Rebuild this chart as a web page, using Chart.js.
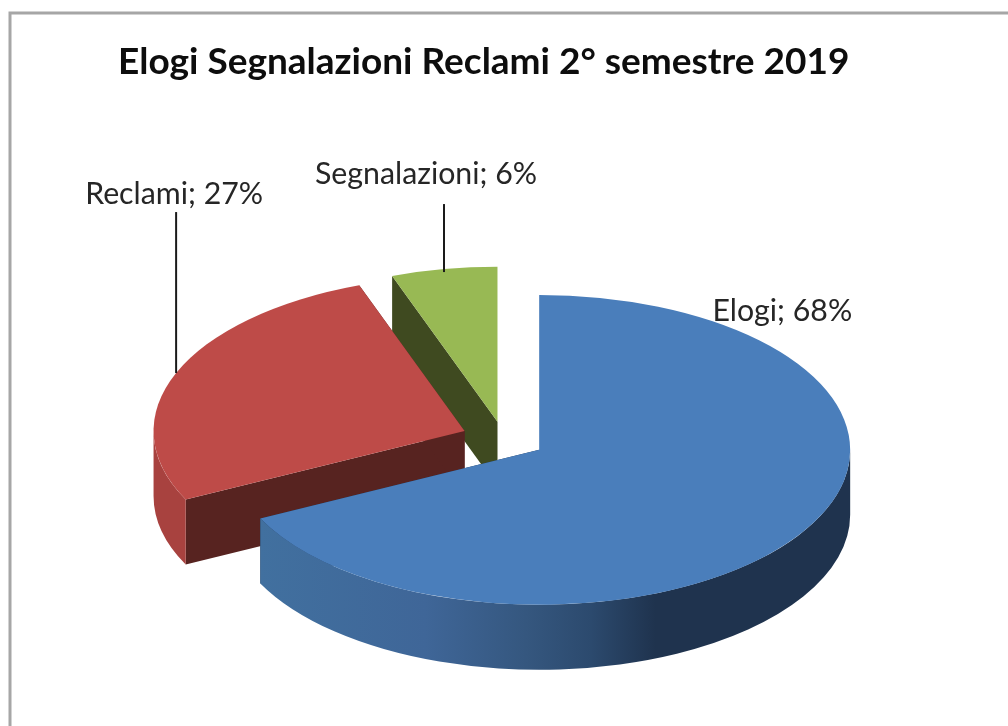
<!DOCTYPE html>
<html lang="it">
<head>
<meta charset="utf-8">
<title>Elogi Segnalazioni Reclami</title>
<script src="https://cdn.jsdelivr.net/npm/chart.js@4"></script>
<style>
html,body{margin:0;padding:0;background:#fff;}
#wrap{position:relative;width:1008px;height:726px;overflow:hidden;}
canvas{display:block;}
</style>
</head>
<body>
<div id="wrap"><canvas id="c" width="1008" height="726"></canvas></div>
<script>
const categories = ["Elogi", "Reclami", "Segnalazioni"];
const percentages = [67.7, 26.8, 5.5];
const chartTitle = "Elogi Segnalazioni Reclami 2° semestre 2019";

const topColors = ["#4a7ebb", "#be4b48", "#98b954"];
const cutColors = ["#1f334e", "#572320", "#3f4a20"];
const rimStops = [
  [[0, "#41709f"], [0.28, "#3f6698"], [0.45, "#35577f"], [0.56, "#2c4a6e"], [0.67, "#1f334e"], [1, "#1f334e"]],
  [[0, "#a8423f"], [1, "#a8423f"]],
  [[0, "#7a9443"], [1, "#7a9443"]]
];

const tilt = 0.498;          // vertical squash of the pie
const depth = 65;            // thickness of the pie, in screen pixels
const explode = [42, 42, 35]; // distance each slice is pulled from the centre
const centerY = 438.8;       // screen position of the pie centre

// Where each label sits relative to the middle of its slice's rim
const labelOffset = [[-21, -220], [-2, -179], [-18, -95]];
const leaderFrom = [null, -161, -65];
const leaderInset = [0, 0, 3];

const pie3d = {
  id: "pie3d",
  beforeDraw(chart) {
    const ctx = chart.ctx;
    ctx.save();
    ctx.fillStyle = "#ffffff";
    ctx.fillRect(0, 0, chart.width, chart.height);
    ctx.strokeStyle = "#a6a6a6";
    ctx.lineWidth = 3;
    ctx.strokeRect(10, 13, chart.width + 20, chart.height + 20);
    ctx.restore();
  },
  beforeDatasetsDraw(chart) {
    const ctx = chart.ctx;
    const arcs = chart.getDatasetMeta(0).data;
    for (let i = arcs.length - 1; i >= 0; i--) {
      const arc = arcs[i];
      const { x, y, startAngle, endAngle, outerRadius: r } =
        arc.getProps(["x", "y", "startAngle", "endAngle", "outerRadius"], true);
      const mid = (startAngle + endAngle) / 2;
      const dz = depth / tilt;

      ctx.save();
      ctx.translate(0, centerY);
      ctx.scale(1, tilt);
      ctx.translate(0, -y);
      ctx.translate(Math.cos(mid) * explode[i], Math.sin(mid) * explode[i]);

      // flat cut walls
      ctx.fillStyle = cutColors[i];
      [startAngle, endAngle].forEach(a => {
        const ex = x + Math.cos(a) * r, ey = y + Math.sin(a) * r;
        ctx.beginPath();
        ctx.moveTo(x, y);
        ctx.lineTo(ex, ey);
        ctx.lineTo(ex, ey + dz);
        ctx.lineTo(x, y + dz);
        ctx.closePath();
        ctx.fill();
      });

      // curved outer wall: only the part that faces the viewer
      const a0 = Math.max(startAngle, 0);
      const a1 = Math.min(endAngle, Math.PI);
      if (a1 > a0) {
        const x0 = x + Math.cos(a1) * r;
        const x1 = x + (a0 <= 0 ? 1 : Math.cos(a0)) * r;
        const g = ctx.createLinearGradient(x0, 0, x1, 0);
        rimStops[i].forEach(s => g.addColorStop(s[0], s[1]));
        ctx.fillStyle = g;
        ctx.beginPath();
        ctx.arc(x, y, r, a0, a1);
        ctx.arc(x, y + dz, r, a1, a0, true);
        ctx.closePath();
        ctx.fill();
      }

      // top face: the library's own arc element
      arc.draw(ctx);
      ctx.restore();
    }
    return false;
  },
  afterDraw(chart) {
    const ctx = chart.ctx;
    const arcs = chart.getDatasetMeta(0).data;
    ctx.save();
    ctx.font = "30.3px Lato, 'Open Sans', sans-serif";
    ctx.textAlign = "center";
    ctx.textBaseline = "middle";
    arcs.forEach((arc, i) => {
      const { x, startAngle, endAngle, outerRadius: r } =
        arc.getProps(["x", "startAngle", "endAngle", "outerRadius"], true);
      const mid = (startAngle + endAngle) / 2;
      const rimX = x + Math.cos(mid) * (r + explode[i]);
      const rimY = centerY + Math.sin(mid) * (r + explode[i]) * tilt;
      if (leaderFrom[i] !== null) {
        ctx.strokeStyle = "#1a1a1a";
        ctx.lineWidth = 2;
        ctx.beginPath();
        ctx.moveTo(rimX, rimY + leaderFrom[i]);
        ctx.lineTo(rimX, rimY + leaderInset[i]);
        ctx.stroke();
      }
      ctx.fillStyle = "#262626";
      ctx.fillText(
        categories[i] + "; " + Math.round(percentages[i]) + "%",
        rimX + labelOffset[i][0],
        rimY + labelOffset[i][1]
      );
    });
    ctx.restore();
  }
};

new Chart(document.getElementById("c"), {
  type: "pie",
  data: {
    labels: categories,
    datasets: [{
      data: percentages,
      backgroundColor: topColors,
      borderWidth: 0
    }]
  },
  plugins: [pie3d],
  options: {
    responsive: false,
    animation: false,
    radius: 311,
    layout: { padding: { left: 118, right: 119 } },
    plugins: {
      legend: { display: false },
      tooltip: { enabled: false },
      title: {
        display: true,
        text: chartTitle,
        align: "start",
        color: "#0d0d0d",
        font: { family: "Lato, 'Open Sans', sans-serif", size: 37, weight: "bold" },
        padding: { top: 40, bottom: 0 }
      }
    }
  }
});
</script>
</body>
</html>
